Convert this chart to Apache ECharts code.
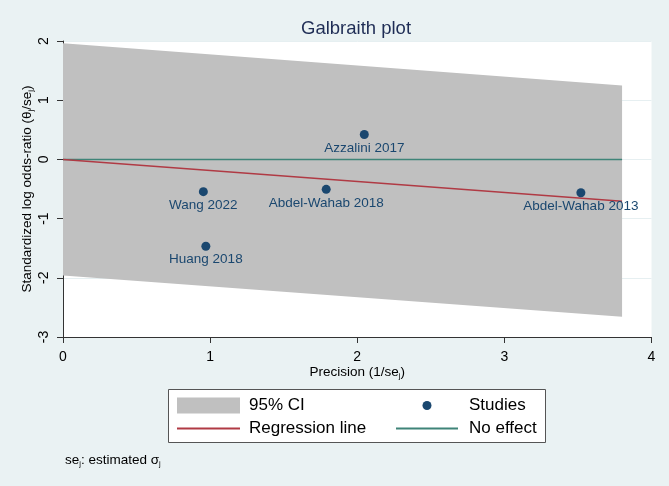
<!DOCTYPE html>
<html>
<head>
<meta charset="utf-8">
<script src="https://cdn.jsdelivr.net/npm/echarts@6/dist/echarts.min.js"></script>
<style>
html,body{margin:0;padding:0;background:#eaf2f3;}
#chart{width:669px;height:486px;}
</style>
</head>
<body>
<div id="chart"></div>
<script>
// Studies (precision x, standardized log OR y)
const studyNames = ['Wang 2022', 'Huang 2018', 'Abdel-Wahab 2018', 'Azzalini 2017', 'Abdel-Wahab 2013'];
const studyPrecision = [0.954, 0.971, 1.789, 2.048, 3.52];
const studyZ = [-0.545, -1.467, -0.506, 0.42, -0.563];

// 95% CI band edges
const bandX = [0, 3.8];
const bandUpper = [1.96, 1.25];
const bandLower = [-1.96, -2.66];

// Regression line and no-effect line
const regX = [0, 3.8];
const regY = [0, -0.708];
const nullX = [0, 3.8];
const nullY = [0, 0];

// Axis ticks
const xTicks = [0, 1, 2, 3, 4];
const yTicks = [-3, -2, -1, 0, 1, 2];

const FONT = '"Liberation Sans", Arial, Helvetica, sans-serif';
const NAVY = '#1a476f';
const RED = '#b03a44';
const TEAL = '#3f8478';
const GRAY = '#c0c0c0';

const chart = echarts.init(document.getElementById('chart'), null, {renderer: 'canvas'});

const option = {
  backgroundColor: '#eaf2f3',
  animation: false,
  textStyle: {fontFamily: FONT},
  title: {
    text: 'Galbraith plot',
    left: 301, top: 19, padding: 0,
    textStyle: {fontFamily: FONT, fontSize: 18.5, fontWeight: 'normal', color: '#1f2d55'}
  },
  grid: {
    left: 63, top: 41, right: 17.5, bottom: 149,
    show: true, backgroundColor: '#ffffff', borderWidth: 0
  },
  xAxis: {
    type: 'value', min: xTicks[0], max: xTicks[xTicks.length - 1], interval: 1,
    name: 'Precision (1/se{sub|j})',
    nameLocation: 'middle', nameGap: 27, nameMoveOverlap: false,
    nameTextStyle: {
      fontFamily: FONT, fontSize: 13.5, color: '#000', lineHeight: 16,
      rich: {sub: {fontFamily: FONT, fontSize: 8, lineHeight: 8, verticalAlign: 'bottom', color: '#000'}}
    },
    axisLine: {show: true, onZero: false, lineStyle: {color: '#333', width: 1}},
    axisTick: {show: true, length: 6, lineStyle: {color: '#333'}},
    axisLabel: {fontFamily: FONT, fontSize: 14, color: '#000', margin: 13},
    splitLine: {show: false}
  },
  yAxis: {
    type: 'value', min: yTicks[0], max: yTicks[yTicks.length - 1], interval: 1,
    name: 'Standardized log odds-ratio (θ{sub|j}/se{sub|j})',
    nameLocation: 'middle', nameGap: 28, nameMoveOverlap: false,
    nameTextStyle: {
      fontFamily: FONT, fontSize: 13.5, color: '#000', lineHeight: 16,
      rich: {sub: {fontFamily: FONT, fontSize: 8, lineHeight: 8, verticalAlign: 'bottom', color: '#000'}}
    },
    axisLine: {show: true, onZero: false, lineStyle: {color: '#333', width: 1}},
    axisTick: {show: true, length: 6, lineStyle: {color: '#333'}},
    axisLabel: {fontFamily: FONT, fontSize: 14, color: '#000', rotate: 90, margin: 12},
    splitLine: {show: true, lineStyle: {color: '#e6eff1', width: 1}}
  },
  legend: [
    {
      left: 176, top: 397, padding: 0, orient: 'vertical', itemGap: 6,
      itemWidth: 63, itemHeight: 16,
      textStyle: {fontFamily: FONT, fontSize: 17, color: '#000', lineHeight: 17, padding: [0, 0, 0, 4]},
      data: [
        {name: '95% CI', icon: 'rect'},
        {name: 'Regression line', itemStyle: {opacity: 0}}
      ]
    },
    {
      left: 395, top: 397, padding: 0, orient: 'vertical', itemGap: 6,
      itemWidth: 62, itemHeight: 9,
      textStyle: {fontFamily: FONT, fontSize: 17, color: '#000', lineHeight: 17, padding: [0, 0, 0, 6]},
      data: [
        {name: 'Studies', icon: 'circle'},
        {name: 'No effect', itemStyle: {opacity: 0}}
      ]
    }
  ],
  graphic: [
    {
      type: 'rect', z: -1, zlevel: 0, silent: true,
      shape: {x: 168.5, y: 389.5, width: 377, height: 53},
      style: {fill: '#ffffff', stroke: '#555555', lineWidth: 1}
    },
    {
      type: 'text', left: 65, top: 453, silent: true,
      style: {
        text: 'se{sub|j}: estimated σ{sub|j}',
        font: '13.5px ' + FONT, fill: '#000',
        rich: {sub: {fontSize: 7.5, lineHeight: 7, verticalAlign: 'bottom', fill: '#000'}},
        lineHeight: 15
      }
    }
  ],
  series: [
    {
      name: '95% CI', type: 'custom', z: 1,
      itemStyle: {color: GRAY},
      encode: {x: 0, y: [1, 2]},
      data: bandX.map((x, i) => [x, bandUpper[i], bandLower[i]]),
      renderItem: function (params, api) {
        if (params.dataIndex !== 0) return null;
        const pts = [];
        for (let i = 0; i < bandX.length; i++) pts.push(api.coord([bandX[i], bandUpper[i]]));
        for (let i = bandX.length - 1; i >= 0; i--) pts.push(api.coord([bandX[i], bandLower[i]]));
        return {type: 'polygon', shape: {points: pts}, style: {fill: GRAY}};
      }
    },
    {
      name: 'No effect', type: 'line', z: 3, symbol: 'none',
      lineStyle: {color: TEAL, width: 1.5}, itemStyle: {color: TEAL},
      data: nullX.map((x, i) => [x, nullY[i]])
    },
    {
      name: 'Regression line', type: 'line', z: 4, symbol: 'none',
      lineStyle: {color: RED, width: 1.5}, itemStyle: {color: RED},
      data: regX.map((x, i) => [x, regY[i]])
    },
    {
      name: 'Studies', type: 'scatter', z: 5, symbol: 'circle', symbolSize: 9,
      itemStyle: {color: NAVY, opacity: 1},
      label: {
        show: true, position: 'bottom', distance: 2,
        fontFamily: FONT, fontSize: 13.5, color: NAVY,
        formatter: p => p.name
      },
      data: studyNames.map((n, i) => ({name: n, value: [studyPrecision[i], studyZ[i]]}))
    }
  ]
};

chart.setOption(option);
</script>
</body>
</html>
